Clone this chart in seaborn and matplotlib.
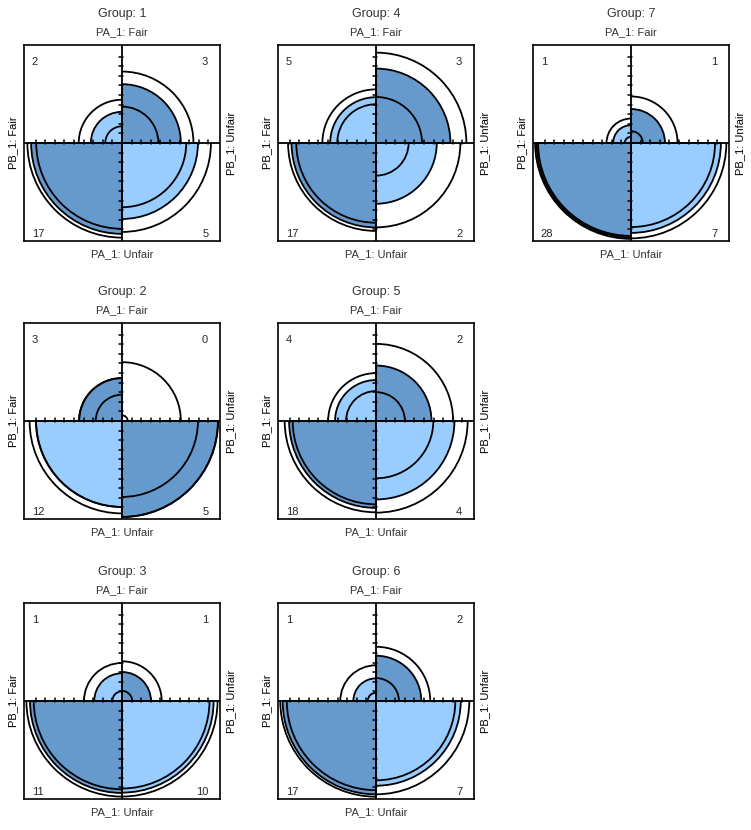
import numpy as np
import pandas as pd
import matplotlib
matplotlib.use('Agg')
from matplotlib import pyplot as plt
from matplotlib.patches import Wedge, Arc
import seaborn as sns

# counts per group: PA_1 (rows: Fair / Unfair) x PB_1 (cols: Fair / Unfair)
groups = [1, 2, 3, 4, 5, 6, 7]
fair_fair = [2, 3, 1, 5, 4, 1, 1]
fair_unfair = [3, 0, 1, 3, 2, 2, 1]
unfair_fair = [17, 12, 11, 17, 18, 17, 28]
unfair_unfair = [5, 5, 10, 2, 4, 7, 7]

dark = '#6699cc'
light = '#99ccff'

df = pd.DataFrame({'group': groups, 'ff': fair_fair, 'fu': fair_unfair,
                   'uf': unfair_fair, 'uu': unfair_unfair})
df['prow'] = (df['group'] - 1) % 3
df['pcol'] = (df['group'] - 1) // 3


def odds_ci(a, b, c, d, z=1.96):
    if min(a, b, c, d) == 0:
        a, b, c, d = a + .5, b + .5, c + .5, d + .5
    theta = a * d / (b * c)
    se = np.sqrt(1 / a + 1 / b + 1 / c + 1 / d)
    return np.exp(np.log(theta) - z * se), np.exp(np.log(theta) + z * se), theta


def table_for(a, b, c, d, theta):
    # table with the same margins as (a, b, c, d) and odds ratio theta
    r1, c1, n = a + b, a + c, a + b + c + d
    A = 1 - theta
    B = n - r1 - c1 + theta * (r1 + c1)
    C = -theta * r1 * c1
    lo, hi = max(0, r1 + c1 - n), min(r1, c1)
    if abs(A) < 1e-12:
        x = -C / B
    else:
        disc = np.sqrt(B * B - 4 * A * C)
        roots = np.array([(-B + disc) / (2 * A), (-B - disc) / (2 * A)])
        mid = (lo + hi) / 2
        x = roots[np.argmin(np.abs(roots - mid))]
    x = np.clip(x, lo, hi)
    return x, r1 - x, c1 - x, n - r1 - c1 + x


def fourfold(data, color=None, label=None, **kws):
    ax = plt.gca()
    row = data.iloc[0]
    a, b, c, d = row['ff'], row['fu'], row['uf'], row['uu']
    n1, n2 = a + c, b + d
    lo, hi, theta = odds_ci(a, b, c, d)
    quads = [(90, 180), (0, 90), (180, 270), (270, 360)]
    if theta > 1:
        cols = [dark, light, light, dark]
    else:
        cols = [light, dark, dark, light]
    std = [a / n1, b / n2, c / n1, d / n2]
    for (t1, t2), p, fc in zip(quads, std, cols):
        r = np.sqrt(p)
        if r > 0:
            ax.add_patch(Wedge((0, 0), r, t1, t2, fc=fc, ec='black', lw=1.3, zorder=1))
    for th in (lo, hi):
        ta, tb, tc, td = table_for(a, b, c, d, th)
        ring = [ta / n1, tb / n2, tc / n1, td / n2]
        for (t1, t2), p in zip(quads, ring):
            r = np.sqrt(max(p, 0))
            ax.add_patch(Arc((0, 0), 2 * r, 2 * r, theta1=t1, theta2=t2,
                             color='black', lw=1.3, zorder=2))
    ax.plot([-1.02, 1.02], [0, 0], color='black', lw=1.3, zorder=3)
    ax.plot([0, 0], [-1.02, 1.02], color='black', lw=1.3, zorder=3)
    for k in np.arange(1, 10) * 0.1:
        for s in (-1, 1):
            ax.plot([s * k, s * k], [-0.01, 0.03], color='black', lw=1.1, zorder=3)
            ax.plot([-0.03, 0.01], [s * k, s * k], color='black', lw=1.1, zorder=3)
    ax.set_xlim(-1.02, 1.02)
    ax.set_ylim(-1.02, 1.02)
    ax.set_aspect('auto')
    ax.set_xticks([])
    ax.set_yticks([])
    tf = ax.transAxes
    fs = 8
    ax.text(0.04, 0.94, f'{a}', transform=tf, ha='left', va='top', fontsize=fs)
    ax.text(0.94, 0.94, f'{b}', transform=tf, ha='right', va='top', fontsize=fs)
    ax.text(0.04, 0.01, f'{c}', transform=tf, ha='left', va='bottom', fontsize=fs)
    ax.text(0.94, 0.01, f'{d}', transform=tf, ha='right', va='bottom', fontsize=fs)
    ax.text(0.5, 1.16, f'Group: {row["group"]}', transform=tf, ha='center',
            va='center', fontsize=9, color='#333333')
    ax.text(0.5, 1.066, 'PA_1: Fair', transform=tf, ha='center', va='center',
            fontsize=8, color='#333333')
    ax.text(0.5, -0.066, 'PA_1: Unfair', transform=tf, ha='center', va='center',
            fontsize=8, color='#333333')
    ax.text(-0.056, 0.5, 'PB_1: Fair', transform=tf, ha='center', va='center',
            rotation=90, fontsize=8, color='black')
    ax.text(1.056, 0.5, 'PB_1: Unfair', transform=tf, ha='center', va='center',
            rotation=90, fontsize=8, color='black')


sns.set_style('white')
plt.rcParams['font.family'] = ['Liberation Sans', 'DejaVu Sans']

g = sns.FacetGrid(df, row='prow', col='pcol', height=2.5, aspect=1,
                  sharex=False, sharey=False)
g.map_dataframe(fourfold)
g.set_titles('')
g.set_axis_labels('', '')
g.figure.set_size_inches(7.51, 8.30)

W, H = 751, 830
lefts = [24, 278, 533]
tops = [45, 323, 603]
size = 196
for i in range(3):
    for j in range(3):
        ax = g.axes[i, j]
        ax.set_position([lefts[j] / W, 1 - (tops[i] + size) / H, size / W, size / H])
        if not ax.has_data() and not ax.patches:
            ax.set_axis_off()
        else:
            for sp in ax.spines.values():
                sp.set_visible(True)
                sp.set_color('black')
                sp.set_linewidth(1.2)

g.figure.savefig('out.png', dpi=100, facecolor='white')
